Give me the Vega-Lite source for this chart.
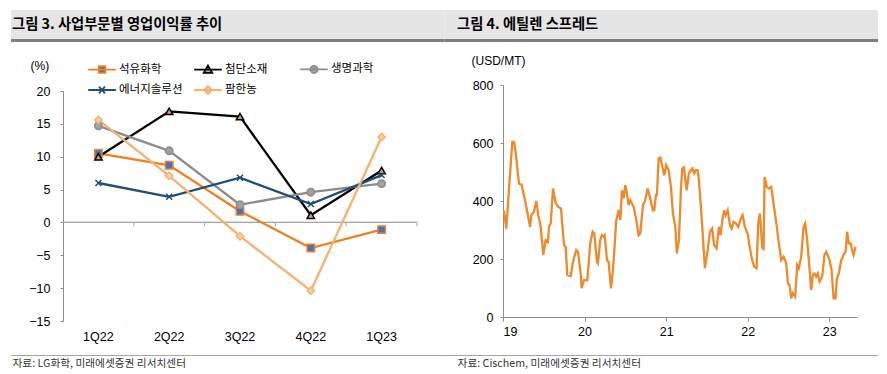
{
  "$schema": "https://vega.github.io/schema/vega-lite/v6.json",
  "padding": {"left": 11, "top": 10, "right": 9, "bottom": 0},
  "background": "white",
  "spacing": 12,
  "config": {
    "view": {"stroke": null},
    "axis": {"grid": false, "labelFont": "Liberation Sans", "titleFont": "Liberation Sans", "labelColor": "#000000", "titleColor": "#000000", "domainColor": "#8C8C8C", "tickColor": "#8C8C8C", "titleFontWeight": "normal", "labelOverlap": false}
  },
  "datasets": {
    "panels": [
      {"panel": "L", "title": "그림 3. 사업부문별 영업이익률 추이", "source": "자료: LG화학, 미래에셋증권 리서치센터"},
      {"panel": "R", "title": "그림 4. 에틸렌 스프레드", "source": "자료: Cischem, 미래에셋증권 리서치센터"}
    ],
    "margin": [
      {"q": "1Q22", "s": "석유화학", "v": 10.5}, {"q": "2Q22", "s": "석유화학", "v": 8.7}, {"q": "3Q22", "s": "석유화학", "v": 1.7}, {"q": "4Q22", "s": "석유화학", "v": -3.9}, {"q": "1Q23", "s": "석유화학", "v": -1.1},
      {"q": "1Q22", "s": "첨단소재", "v": 10.0}, {"q": "2Q22", "s": "첨단소재", "v": 16.9}, {"q": "3Q22", "s": "첨단소재", "v": 16.1}, {"q": "4Q22", "s": "첨단소재", "v": 1.1}, {"q": "1Q23", "s": "첨단소재", "v": 7.9},
      {"q": "1Q22", "s": "생명과학", "v": 14.7}, {"q": "2Q22", "s": "생명과학", "v": 10.9}, {"q": "3Q22", "s": "생명과학", "v": 2.7}, {"q": "4Q22", "s": "생명과학", "v": 4.6}, {"q": "1Q23", "s": "생명과학", "v": 5.9},
      {"q": "1Q22", "s": "에너지솔루션", "v": 6.0}, {"q": "2Q22", "s": "에너지솔루션", "v": 3.9}, {"q": "3Q22", "s": "에너지솔루션", "v": 6.8}, {"q": "4Q22", "s": "에너지솔루션", "v": 2.8}, {"q": "1Q23", "s": "에너지솔루션", "v": 7.2},
      {"q": "1Q22", "s": "팜한농", "v": 15.6}, {"q": "2Q22", "s": "팜한농", "v": 7.1}, {"q": "3Q22", "s": "팜한농", "v": -2.1}, {"q": "4Q22", "s": "팜한농", "v": -10.4}, {"q": "1Q23", "s": "팜한농", "v": 13.0}
    ],
    "spread": [
      {"t": 2019.012, "v": 368}, {"t": 2019.040, "v": 305}, {"t": 2019.114, "v": 604}, {"t": 2019.135, "v": 604}, {"t": 2019.156, "v": 565},
      {"t": 2019.196, "v": 460}, {"t": 2019.229, "v": 455}, {"t": 2019.278, "v": 392}, {"t": 2019.331, "v": 311}, {"t": 2019.347, "v": 351},
      {"t": 2019.380, "v": 363}, {"t": 2019.408, "v": 400}, {"t": 2019.433, "v": 351}, {"t": 2019.462, "v": 311}, {"t": 2019.494, "v": 214},
      {"t": 2019.523, "v": 265}, {"t": 2019.551, "v": 259}, {"t": 2019.564, "v": 311}, {"t": 2019.585, "v": 323}, {"t": 2019.613, "v": 443},
      {"t": 2019.646, "v": 392}, {"t": 2019.678, "v": 380}, {"t": 2019.711, "v": 374}, {"t": 2019.748, "v": 248}, {"t": 2019.768, "v": 242},
      {"t": 2019.788, "v": 145}, {"t": 2019.830, "v": 141}, {"t": 2019.858, "v": 190}, {"t": 2019.898, "v": 231}, {"t": 2019.919, "v": 225},
      {"t": 2019.952, "v": 150}, {"t": 2019.964, "v": 99}, {"t": 2019.993, "v": 127}, {"t": 2020.033, "v": 127}, {"t": 2020.070, "v": 254},
      {"t": 2020.099, "v": 294}, {"t": 2020.119, "v": 288}, {"t": 2020.152, "v": 190}, {"t": 2020.164, "v": 185}, {"t": 2020.192, "v": 265},
      {"t": 2020.213, "v": 282}, {"t": 2020.234, "v": 277}, {"t": 2020.246, "v": 282}, {"t": 2020.275, "v": 196}, {"t": 2020.295, "v": 190},
      {"t": 2020.324, "v": 99}, {"t": 2020.348, "v": 162}, {"t": 2020.389, "v": 334}, {"t": 2020.418, "v": 368}, {"t": 2020.438, "v": 334},
      {"t": 2020.458, "v": 437}, {"t": 2020.479, "v": 409}, {"t": 2020.499, "v": 455}, {"t": 2020.520, "v": 426}, {"t": 2020.540, "v": 386},
      {"t": 2020.560, "v": 403}, {"t": 2020.602, "v": 380}, {"t": 2020.634, "v": 334}, {"t": 2020.663, "v": 282}, {"t": 2020.683, "v": 288},
      {"t": 2020.716, "v": 386}, {"t": 2020.744, "v": 403}, {"t": 2020.773, "v": 443}, {"t": 2020.805, "v": 409}, {"t": 2020.838, "v": 368},
      {"t": 2020.854, "v": 368}, {"t": 2020.875, "v": 420}, {"t": 2020.887, "v": 420}, {"t": 2020.908, "v": 547}, {"t": 2020.928, "v": 550},
      {"t": 2020.949, "v": 524}, {"t": 2020.977, "v": 489}, {"t": 2021.001, "v": 524}, {"t": 2021.031, "v": 506}, {"t": 2021.059, "v": 449},
      {"t": 2021.083, "v": 357}, {"t": 2021.112, "v": 311}, {"t": 2021.132, "v": 219}, {"t": 2021.157, "v": 265}, {"t": 2021.181, "v": 437},
      {"t": 2021.197, "v": 512}, {"t": 2021.218, "v": 516}, {"t": 2021.251, "v": 437}, {"t": 2021.279, "v": 495}, {"t": 2021.304, "v": 506},
      {"t": 2021.320, "v": 512}, {"t": 2021.344, "v": 495}, {"t": 2021.361, "v": 506}, {"t": 2021.386, "v": 506}, {"t": 2021.402, "v": 472},
      {"t": 2021.435, "v": 345}, {"t": 2021.475, "v": 168}, {"t": 2021.509, "v": 231}, {"t": 2021.537, "v": 294}, {"t": 2021.565, "v": 305},
      {"t": 2021.589, "v": 248}, {"t": 2021.619, "v": 237}, {"t": 2021.647, "v": 311}, {"t": 2021.668, "v": 282}, {"t": 2021.688, "v": 334},
      {"t": 2021.712, "v": 368}, {"t": 2021.729, "v": 351}, {"t": 2021.754, "v": 368}, {"t": 2021.782, "v": 317}, {"t": 2021.803, "v": 305},
      {"t": 2021.827, "v": 328}, {"t": 2021.855, "v": 323}, {"t": 2021.884, "v": 311}, {"t": 2021.917, "v": 340}, {"t": 2021.938, "v": 351},
      {"t": 2021.966, "v": 311}, {"t": 2021.999, "v": 288}, {"t": 2022.027, "v": 237}, {"t": 2022.055, "v": 196}, {"t": 2022.080, "v": 173},
      {"t": 2022.109, "v": 168}, {"t": 2022.129, "v": 323}, {"t": 2022.150, "v": 357}, {"t": 2022.178, "v": 242}, {"t": 2022.195, "v": 231},
      {"t": 2022.207, "v": 483}, {"t": 2022.235, "v": 449}, {"t": 2022.260, "v": 443}, {"t": 2022.288, "v": 449}, {"t": 2022.317, "v": 392},
      {"t": 2022.349, "v": 328}, {"t": 2022.382, "v": 254}, {"t": 2022.411, "v": 196}, {"t": 2022.440, "v": 208}, {"t": 2022.472, "v": 185},
      {"t": 2022.493, "v": 116}, {"t": 2022.513, "v": 110}, {"t": 2022.533, "v": 64}, {"t": 2022.554, "v": 82}, {"t": 2022.582, "v": 70},
      {"t": 2022.607, "v": 179}, {"t": 2022.627, "v": 168}, {"t": 2022.656, "v": 208}, {"t": 2022.685, "v": 311}, {"t": 2022.705, "v": 323},
      {"t": 2022.729, "v": 265}, {"t": 2022.759, "v": 162}, {"t": 2022.778, "v": 93}, {"t": 2022.799, "v": 145}, {"t": 2022.820, "v": 150},
      {"t": 2022.839, "v": 139}, {"t": 2022.860, "v": 150}, {"t": 2022.881, "v": 122}, {"t": 2022.913, "v": 139}, {"t": 2022.942, "v": 214},
      {"t": 2022.962, "v": 225}, {"t": 2023.004, "v": 196}, {"t": 2023.028, "v": 162}, {"t": 2023.053, "v": 64}, {"t": 2023.077, "v": 64},
      {"t": 2023.093, "v": 133}, {"t": 2023.118, "v": 150}, {"t": 2023.146, "v": 196}, {"t": 2023.175, "v": 214}, {"t": 2023.200, "v": 225},
      {"t": 2023.219, "v": 294}, {"t": 2023.240, "v": 254}, {"t": 2023.261, "v": 254}, {"t": 2023.281, "v": 231}, {"t": 2023.298, "v": 214},
      {"t": 2023.322, "v": 242}
    ]
  },
  "vconcat": [
    {
      "width": 815,
      "height": 32,
      "data": {"name": "panels"},
      "layer": [
        {
          "mark": {"type": "rect", "color": "#E5E5E5"},
          "encoding": {
            "x": {"field": "panel", "type": "nominal", "scale": {"type": "band", "range": [-52, 815], "paddingInner": 0, "paddingOuter": 0}, "axis": null},
            "y": {"value": 0}, "y2": {"value": 29}
          }
        },
        {
          "mark": {"type": "rect", "color": "#7F7F7F"},
          "encoding": {
            "x": {"field": "panel", "type": "nominal", "scale": {"type": "band", "range": [-52, 815], "paddingInner": 0, "paddingOuter": 0}, "axis": null},
            "y": {"value": 29}, "y2": {"value": 32}
          }
        },
        {
          "mark": {"type": "text", "align": "left", "baseline": "middle", "font": "Noto Sans CJK KR", "fontSize": 14.3, "fontWeight": "bold", "color": "#000000", "dx": 1},
          "encoding": {
            "x": {"field": "panel", "type": "nominal", "bandPosition": 0, "scale": {"type": "band", "range": [-52, 815], "paddingInner": 0.052, "paddingOuter": 0}, "axis": null},
            "y": {"value": 15},
            "text": {"field": "title"}
          }
        }
      ],
      "resolve": {"scale": {"x": "independent"}}
    },
    {
      "spacing": 53,
      "hconcat": [
        {
          "width": 354,
          "height": 236,
          "data": {"name": "margin"},
          "encoding": {
            "x": {"field": "q", "type": "ordinal", "scale": {"domain": ["1Q22", "2Q22", "3Q22", "4Q22", "1Q23"], "paddingInner": 0, "paddingOuter": 0},
              "axis": {"title": null, "domain": false, "ticks": false, "labelPadding": 9, "labelFontSize": 12.5, "labelAngle": 0}},
            "y": {"field": "v", "type": "quantitative", "scale": {"domain": [-15, 20], "nice": false, "range": [236, 6]},
              "axis": {"title": "(%)", "titleAngle": 0, "titleAlign": "left", "titleBaseline": "middle", "titleX": -33, "titleY": -20, "titleFontSize": 12,
                "values": [-15, -10, -5, 0, 5, 10, 15, 20], "tickSize": 3, "labelPadding": 10, "labelFontSize": 12.5, "labelAlign": "right"}}
          },
          "layer": [
            {
              "transform": [{"filter": "datum.s == '석유화학'"}],
              "mark": {"type": "rule", "color": "#A6A6A6", "strokeWidth": 1},
              "encoding": {"x": null, "y": {"datum": 0}}
            },
            {
              "transform": [{"filter": "datum.s == '석유화학'"}],
              "mark": {"type": "rule", "color": "#A6A6A6", "strokeWidth": 1},
              "encoding": {"x": {"field": "q", "type": "ordinal", "bandPosition": 1}, "y": {"datum": 0}, "y2": {"datum": -0.6}}
            },
            {
              "mark": {"type": "line", "strokeWidth": 2.3},
              "encoding": {
                "stroke": {"field": "s", "type": "nominal", "scale": {"domain": ["석유화학", "첨단소재", "생명과학", "에너지솔루션", "팜한농"], "range": ["#F07F1E", "#000000", "#8C8C8C", "#1F4E79", "#F4B26F"]}, "legend": null}
              }
            },
            {
              "mark": {"type": "point", "filled": true, "opacity": 1, "size": 55, "strokeWidth": 1.5},
              "encoding": {
                "shape": {"field": "s", "type": "nominal", "scale": {"domain": ["석유화학", "첨단소재", "생명과학", "에너지솔루션", "팜한농"], "range": ["square", "triangle-up", "circle", "M-0.8,-0.8L0.8,0.8M-0.8,0.8L0.8,-0.8", "diamond"]}, "legend": null},
                "fill": {"field": "s", "type": "nominal", "scale": {"domain": ["석유화학", "첨단소재", "생명과학", "에너지솔루션", "팜한농"], "range": ["#4472C4", "#D9A066", "#A0A0A0", "#1F4E79", "#F8CFA0"]}, "legend": null},
                "stroke": {"field": "s", "type": "nominal", "scale": {"domain": ["석유화학", "첨단소재", "생명과학", "에너지솔루션", "팜한농"], "range": ["#F07F1E", "#000000", "#8C8C8C", "#1F4E79", "#F4B26F"]}, "legend": null}
              }
            },
            {
              "transform": [{"filter": "false"}],
              "mark": {"type": "point", "filled": true, "opacity": 1},
              "encoding": {
                "shape": {"field": "s", "type": "nominal",
                  "scale": {"domain": ["석유화학", "첨단소재", "생명과학", "에너지솔루션", "팜한농"],
                    "range": [
                      "M-2.3,0H2.3M-0.55,-0.55H0.55V0.55H-0.55Z",
                      "M-2.3,0H2.3M0,-0.65L0.7,0.55H-0.7Z",
                      "M-2.3,0H2.3M-0.6,0A0.6,0.6,0,1,0,0.6,0A0.6,0.6,0,1,0,-0.6,0Z",
                      "M-2.3,0H2.3M-0.5,-0.55L0.5,0.55M-0.5,0.55L0.5,-0.55",
                      "M-2.3,0H2.3M0,-0.65L0.65,0L0,0.65L-0.65,0Z"
                    ]},
                  "legend": {"title": null, "orient": "none", "direction": "horizontal", "legendX": 32, "legendY": -23, "padding": 0, "columns": 3, "gridAlign": "all", "columnPadding": 7, "rowPadding": 5,
                    "symbolSize": 144, "symbolStrokeWidth": 1.8, "symbolOpacity": 1, "labelOffset": 10, "labelFont": "Noto Sans CJK KR", "labelFontSize": 11.5, "labelColor": "#000000"}},
                "fill": {"field": "s", "type": "nominal", "scale": {"domain": ["석유화학", "첨단소재", "생명과학", "에너지솔루션", "팜한농"], "range": ["#4472C4", "#D9A066", "#A0A0A0", "#1F4E79", "#F8CFA0"]}},
                "stroke": {"field": "s", "type": "nominal", "scale": {"domain": ["석유화학", "첨단소재", "생명과학", "에너지솔루션", "팜한농"], "range": ["#F07F1E", "#000000", "#8C8C8C", "#1F4E79", "#F4B26F"]}}
              }
            }
          ],
          "resolve": {"scale": {"shape": "independent", "fill": "independent", "stroke": "independent"}}
        },
        {
          "width": 354,
          "height": 232,
          "data": {"name": "spread"},
          "mark": {"type": "line", "color": "#F0892A", "strokeWidth": 2.3},
          "encoding": {
            "x": {"field": "t", "type": "quantitative", "scale": {"domain": [2019, 2023.34], "nice": false, "zero": false},
              "axis": {"title": null, "values": [2019, 2020, 2021, 2022, 2023], "labelExpr": "datum.value - 2000", "tickSize": 4, "labelPadding": 4.6, "labelFontSize": 12.5}},
            "y": {"field": "v", "type": "quantitative", "scale": {"domain": [0, 800], "nice": false},
              "axis": {"title": "(USD/MT)", "titleAngle": 0, "titleAlign": "left", "titleBaseline": "middle", "titleX": -32, "titleY": -25, "titleFontSize": 12,
                "values": [0, 200, 400, 600, 800], "tickSize": 3, "labelPadding": 7, "labelFontSize": 12.5}}
          }
        }
      ]
    },
    {
      "width": 815,
      "height": 19,
      "data": {"name": "panels"},
      "layer": [
        {
          "mark": {"type": "rect", "color": "#A6A6A6"},
          "encoding": {
            "x": {"field": "panel", "type": "nominal", "scale": {"type": "band", "range": [-52, 815], "paddingInner": 0, "paddingOuter": 0}, "axis": null},
            "y": {"value": 0}, "y2": {"value": 1}
          }
        },
        {
          "mark": {"type": "text", "align": "left", "baseline": "middle", "font": "Noto Sans CJK KR", "fontSize": 10.7, "color": "#333333", "dx": 1.5},
          "encoding": {
            "x": {"field": "panel", "type": "nominal", "bandPosition": 0, "scale": {"type": "band", "range": [-52, 815], "paddingInner": 0.052, "paddingOuter": 0}, "axis": null},
            "y": {"value": 8.5},
            "text": {"field": "source"}
          }
        }
      ],
      "resolve": {"scale": {"x": "independent"}}
    }
  ]
}
